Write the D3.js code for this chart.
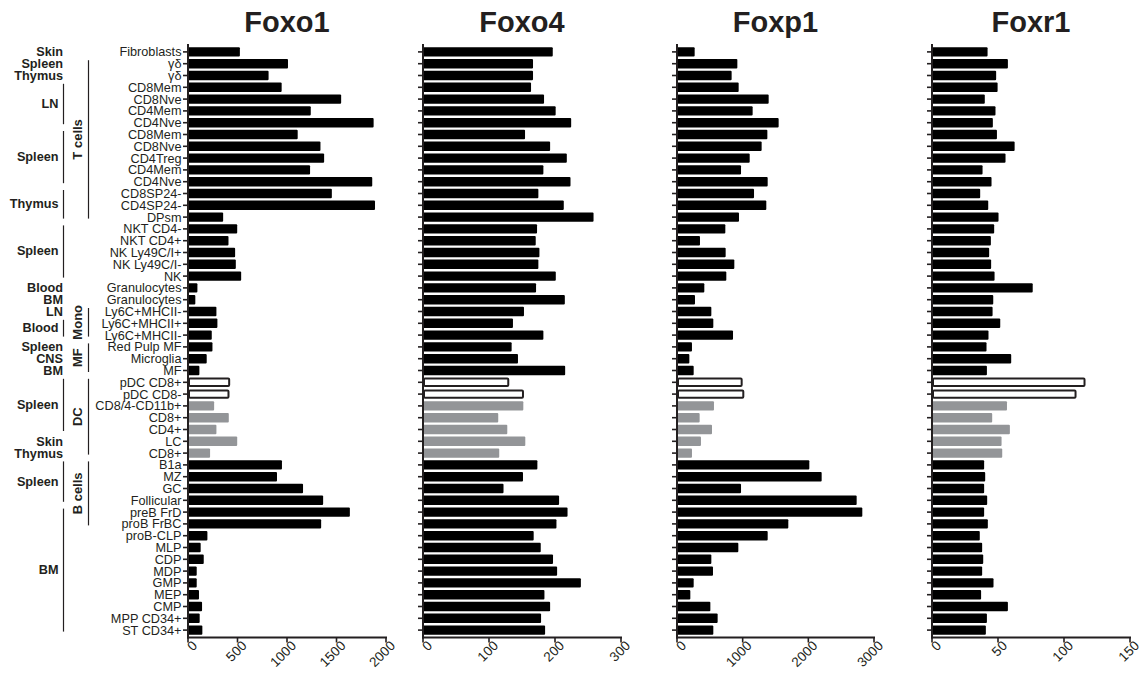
<!DOCTYPE html>
<html>
<head>
<meta charset="utf-8">
<script src="https://cdn.jsdelivr.net/npm/d3@7"></script>
<style>
  html, body { margin: 0; padding: 0; background: #fff; }
  svg { display: block; }
  text { font-family: "Liberation Sans", Arial, Helvetica, sans-serif; fill: #231f20; }
</style>
</head>
<body>
<svg id="chart" width="1142" height="677"></svg>
<script>
// ---------------- DATA ----------------
const cellTypes = [
  "Fibroblasts","γδ","γδ","CD8Mem","CD8Nve","CD4Mem","CD4Nve","CD8Mem","CD8Nve","CD4Treg",
  "CD4Mem","CD4Nve","CD8SP24-","CD4SP24-","DPsm","NKT CD4-","NKT CD4+","NK Ly49C/I+","NK Ly49C/I-","NK",
  "Granulocytes","Granulocytes","Ly6C+MHCII-","Ly6C+MHCII+","Ly6C+MHCII-","Red Pulp MF","Microglia","MF","pDC CD8+","pDC CD8-",
  "CD8/4-CD11b+","CD8+","CD4+","LC","CD8+","B1a","MZ","GC","Follicular","preB FrD",
  "proB FrBC","proB-CLP","MLP","CDP","MDP","GMP","MEP","CMP","MPP CD34+","ST CD34+"
];
// DC subset of each row (pDC / cDC / none)
const dcSubset = [
  "","","","","","","","","","",
  "","","","","","","","","","",
  "","","","","","","","","pDC","pDC",
  "cDC","cDC","cDC","cDC","cDC","","","","","",
  "","","","","","","","","",""
];
const foxo1 = [
  524,1010,814,946,1547,1240,1875,1108,1338,1375,
  1233,1861,1453,1889,355,497,409,476,483,537,
  95,74,287,297,240,247,189,115,426,419,
  264,412,287,497,223,949,899,1162,1365,1635,
  1345,196,128,159,88,88,111,142,118,145
];
const foxo4 = [
  196.6,166.7,166.7,163.7,183.4,201,224.5,154.6,192.6,217.9,
  182.4,223.5,174.8,213.3,258.4,172.8,170.8,176.4,174.8,201.2,
  171.3,214.9,153,136.3,182.4,134.3,143.9,215.4,130.7,153,
  152,114,127.7,155,115.5,173.3,151.5,122,206.2,219,
  202.2,167.7,178.4,197,203.2,239.2,184,192.6,178.9,185
];
const foxp1 = [
  269,919,832,939,1396,1152,1548,1376,1289,1107,
  975,1381,1173,1360,944,736,350,741,873,751,
  416,274,523,553,853,228,188,254,1000,1025,
  563,345,533,365,228,2015,2203,975,2736,2822,
  1695,1381,934,523,548,254,203,508,619,553
];
const foxr1 = [
  42.1,57.5,48.6,49.7,40,48.1,46.1,49.2,62.6,55.7,
  38.3,45.1,36.5,42.6,50.4,47.1,44.6,43.3,44.8,47.4,
  76.3,46.4,45.9,51.7,42.8,41.3,60,41.6,116.3,109.5,
  56.8,45.6,59,52.7,53.2,39.5,40.3,39.5,41.8,39.5,
  42.3,36.2,38,38.8,38,46.6,37.2,57.5,41.6,40.8
];
const genes = ["Foxo1","Foxo4","Foxp1","Foxr1"];
const foxo1Ticks = [0,500,1000,1500,2000];
const foxo4Ticks = [0,100,200,300];
const foxp1Ticks = [0,1000,2000,3000];
const foxr1Ticks = [0,50,100,150];

// tissue groups: [label, firstRow, lastRow, bracket]
const tissueGroups = [
  ["Skin",0,0,false],["Spleen",1,1,false],["Thymus",2,2,false],
  ["LN",3,6,true],["Spleen",7,11,true],["Thymus",12,14,true],
  ["Spleen",15,19,true],["Blood",20,20,false],["BM",21,21,false],
  ["LN",22,22,false],["Blood",23,24,true],
  ["Spleen",25,25,false],["CNS",26,26,false],["BM",27,27,false],
  ["Spleen",28,32,true],["Skin",33,33,false],["Thymus",34,34,false],
  ["Spleen",35,38,true],["BM",39,49,true]
];
// cell lineage groups: [label, firstRow, lastRow]
const lineageGroups = [
  ["T cells",1,14],["Mono",22,24],["MF",25,27],["DC",28,34],["B cells",35,40]
];

// ---------------- LAYOUT ----------------
const svg = d3.select("#chart");
const ink = "#231f20";
const y = d3.scaleBand().domain(d3.range(cellTypes.length))
  .range([46, 636]).paddingInner(0.2).paddingOuter(0.1);
const yc = i => y(i) + y.bandwidth() / 2;
const axisY = 637.5;

const panels = [
  {title: genes[0], values: foxo1, ticks: foxo1Ticks, x0: 188, x1: 386, labels: true},
  {title: genes[1], values: foxo4, ticks: foxo4Ticks, x0: 423, x1: 621, labels: false},
  {title: genes[2], values: foxp1, ticks: foxp1Ticks, x0: 677, x1: 874, labels: false},
  {title: genes[3], values: foxr1, ticks: foxr1Ticks, x0: 932, x1: 1130, labels: false}
];

panels.forEach(p => {
  const g = svg.append("g");
  const x = d3.scaleLinear().domain([0, d3.max(p.ticks)]).range([p.x0, p.x1]);

  // title
  g.append("text").attr("x", (p.x0 + p.x1) / 2).attr("y", 32)
    .attr("text-anchor", "middle").style("font-size", "29px").style("font-weight", "bold")
    .text(p.title);

  // bars
  const rows = d3.range(cellTypes.length);
  g.selectAll("rect.bar").data(rows).join("rect")
    .attr("class", "bar")
    .attr("x", i => dcSubset[i] === "pDC" ? x(0) + 1 : x(0))
    .attr("y", i => dcSubset[i] === "pDC" ? y(i) + 1 : y(i))
    .attr("width", i => dcSubset[i] === "pDC" ? x(p.values[i]) - x(0) - 2 : x(p.values[i]) - x(0))
    .attr("height", i => dcSubset[i] === "pDC" ? y.bandwidth() - 2 : y.bandwidth())
    .attr("rx", 1)
    .attr("fill", i => dcSubset[i] === "pDC" ? "#fff" : dcSubset[i] === "cDC" ? "#939598" : "#000")
    .attr("stroke", i => dcSubset[i] === "pDC" ? ink : "none")
    .attr("stroke-width", 2);

  // y axis ticks
  g.selectAll("line.ytick").data(rows).join("line")
    .attr("x1", p.x0 - 5).attr("x2", p.x0)
    .attr("y1", i => yc(i)).attr("y2", i => yc(i))
    .attr("stroke", ink).attr("stroke-width", 1.6);
  // y axis line
  g.append("line").attr("x1", p.x0).attr("x2", p.x0).attr("y1", 44).attr("y2", axisY + 1)
    .attr("stroke", ink).attr("stroke-width", 2);

  if (p.labels) {
    g.selectAll("text.cat").data(rows).join("text")
      .attr("x", p.x0 - 6.5).attr("y", i => yc(i)).attr("dy", "0.35em")
      .attr("text-anchor", "end").style("font-size", "12.7px")
      .text(i => cellTypes[i]);
  }

  // x axis
  g.append("line").attr("x1", p.x0 - 1).attr("x2", p.x1 + 1).attr("y1", axisY).attr("y2", axisY)
    .attr("stroke", ink).attr("stroke-width", 2);
  g.selectAll("line.xtick").data(p.ticks).join("line")
    .attr("x1", d => x(d)).attr("x2", d => x(d)).attr("y1", axisY).attr("y2", axisY + 5)
    .attr("stroke", ink).attr("stroke-width", 1.6);
  g.selectAll("text.xlab").data(p.ticks).join("text")
    .attr("transform", d => `translate(${x(d) + 10},${axisY + 9}) rotate(-45)`)
    .attr("text-anchor", "end").style("font-size", "13.5px")
    .text(d => d);
});

// tissue labels and brackets
tissueGroups.forEach(([label, a, b, bracket]) => {
  const mid = (yc(a) + yc(b)) / 2 - (bracket ? 1.5 : 0);
  svg.append("text").attr("x", bracket ? 58.5 : 63).attr("y", mid).attr("dy", "0.35em")
    .attr("text-anchor", "end").style("font-size", "12.7px").style("font-weight", "bold")
    .text(label);
  if (bracket) {
    svg.append("line").attr("x1", 63.5).attr("x2", 63.5)
      .attr("y1", yc(a) - 3.5).attr("y2", yc(b) + 1.5)
      .attr("stroke", ink).attr("stroke-width", 1.2);
  }
});

// lineage labels and brackets
lineageGroups.forEach(([label, a, b]) => {
  const mid = (yc(a) + yc(b)) / 2 - 1;
  svg.append("text").attr("transform", `translate(81.5,${mid}) rotate(-90)`)
    .attr("text-anchor", "middle").style("font-size", "13px").style("font-weight", "bold")
    .text(label);
  svg.append("line").attr("x1", 88.5).attr("x2", 88.5)
    .attr("y1", yc(a) - 3.5).attr("y2", yc(b) + 1.5)
    .attr("stroke", ink).attr("stroke-width", 1.2);
});
</script>
</body>
</html>
